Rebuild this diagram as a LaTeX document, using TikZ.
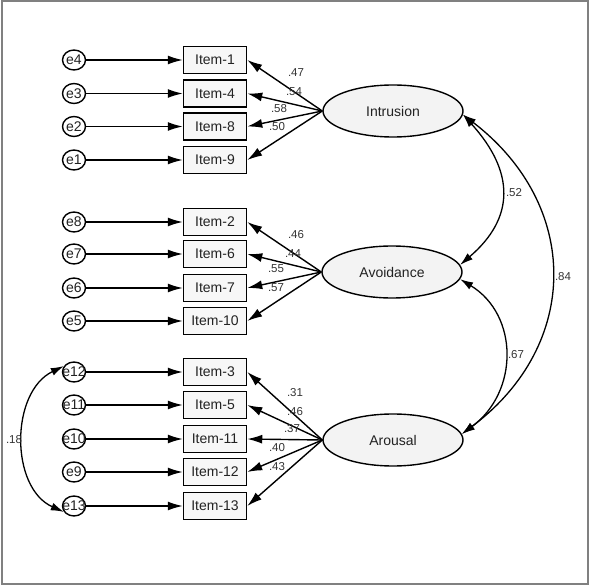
\documentclass[tikz,border=0pt]{standalone}
\usepackage{fontspec}
\setmainfont{Liberation Sans}
\usetikzlibrary{shapes.geometric,arrows.meta}
\definecolor{boxfill}{HTML}{F7F7F7}
\definecolor{latfill}{HTML}{F3F3F3}
\definecolor{txt}{HTML}{222222}
\definecolor{lbl}{HTML}{333333}
\tikzset{
  item/.style={draw=black, line width=1.5pt, fill=boxfill, minimum width=63pt, minimum height=27pt, inner sep=0pt, text=txt, font=\fontsize{14}{14}\selectfont},
  errc/.style={draw=black, ellipse, line width=1.4pt, fill=white, minimum width=23pt, minimum height=20pt, inner sep=0pt, text=txt, font=\fontsize{14}{14}\selectfont},
  latent/.style={draw=black, ellipse, line width=1.4pt, fill=latfill, minimum width=140pt, minimum height=52pt, inner sep=0pt, text=txt, font=\fontsize{14}{14}\selectfont},
  load/.style={text=lbl, inner sep=0pt, font=\fontsize{11.5}{12}\selectfont},
  arr/.style={line width=1.4pt, -{Latex[length=15pt,width=9pt]}},
  cov/.style={line width=1.3pt, {Latex[length=13pt,width=8pt]}-{Latex[length=13pt,width=8pt]}},
}
\begin{document}
\begin{tikzpicture}[x=1pt,y=-1pt]
\useasboundingbox (0,0) rectangle (589,585);
\draw[gray, line width=2pt] (1.5,1.5) rectangle (587.5,583.5);

% latent variables
\node[latent] (intr) at (393,111) {Intrusion};
\node[latent] (avo) at (392,272) {Avoidance};
\node[latent] (aro) at (393,440) {Arousal};

% items and errors
\foreach \n/\e/\y in {1/e4/60, 4/e3/93.5, 8/e2/126.5, 9/e1/160,
                       2/e8/222, 6/e7/254, 7/e6/288, 10/e5/321,
                       3/e12/372, 5/e11/405, 11/e10/439, 12/e9/472, 13/e13/506}{
  \node[item] (i\n) at (215,\y) {Item-\n};
  \node[errc] (\e) at (74,\y) {\makebox[0pt]{\e}};
  \draw[arr] (\e.east) -- (i\n.west);
}

% loadings
\foreach \n in {1,4,8,9}{\draw[arr] (intr.west) -- (i\n.east);}
\foreach \n in {2,6,7,10}{\draw[arr] (avo.west) -- (i\n.east);}
\foreach \n in {3,5,11,12,13}{\draw[arr] (aro.west) -- (i\n.east);}

\node[load] (l1) at (296,73) {.47};
\node[load] (l4) at (294,92) {.54};
\node[load] (l8) at (279,109) {.58};
\node[load] (l9) at (277,127) {.50};
\node[load] (l2) at (296,235) {.46};
\node[load] (l6) at (293,254) {.44};
\node[load] (l7) at (276,269) {.55};
\node[load] (l10) at (276,288) {.57};
\node[load] (l3) at (295,393) {.31};
\node[load] (l5) at (295,412) {.46};
\node[load] (l11) at (292,429) {.37};
\node[load] (l12) at (277,448) {.40};
\node[load] (l13) at (277,467) {.43};

% covariances
\draw[cov] (intr.-3) .. controls (515,172) and (515,218) .. (avo.6);
\draw[cov] (avo.-6) .. controls (519,315) and (519,392) .. (aro.5);
\draw[cov] (intr.-3) .. controls (581,205) and (581,345) .. (aro.5);
\draw[cov] (e12.150) .. controls (10,392) and (10,488) .. (e13.210);

\node[load] (c1) at (514,193) {.52};
\node[load] (c2) at (516,355) {.67};
\node[load] (c3) at (563,277) {.84};
\node[load] (c4) at (14,440) {.18};
\end{tikzpicture}
\end{document}
